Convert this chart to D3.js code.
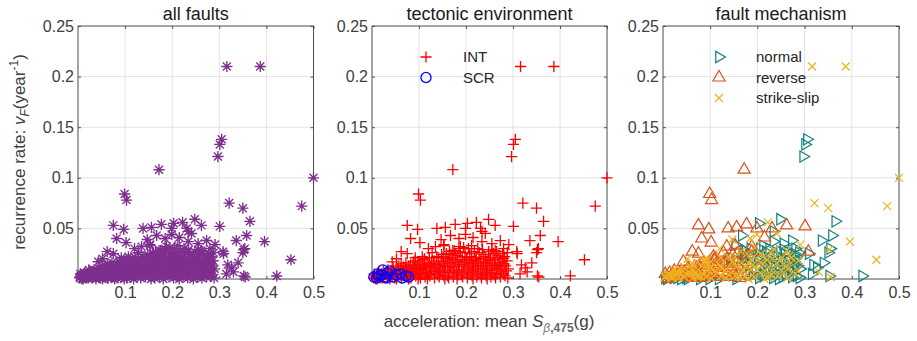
<!DOCTYPE html>
<html><head><meta charset="utf-8">
<script src="https://cdn.jsdelivr.net/npm/d3@7/dist/d3.min.js"></script>
<style>body{margin:0;background:#fff;} svg{display:block;font-family:"Liberation Sans",Arial,Helvetica,sans-serif;}</style>
</head><body><svg id="chart" width="917" height="341"></svg>
<script>
// ---------- data ----------
const panelTitles = ["all faults", "tectonic environment", "fault mechanism"];
const xTicks = [0.1, 0.2, 0.3, 0.4, 0.5];
const yTicks = [0.05, 0.1, 0.15, 0.2, 0.25];
const xDomain = [0, 0.5];
const yDomain = [0, 0.25];
const environments = ["INT", "SCR"];
const mechanisms = ["normal", "reverse", "strike-slip"];
// each fault: [mean S(g), recurrence rate (1/yr), mechanism index]
const intFaults = [
 [0.316,0.210,2],[0.387,0.210,2],[0.305,0.138,0],[0.301,0.133,0],[0.297,0.121,0],
 [0.172,0.108,1],[0.099,0.084,1],[0.103,0.078,1],[0.500,0.100,2],[0.475,0.072,2],
 [0.321,0.075,2],[0.350,0.070,2],[0.365,0.057,0],[0.301,0.052,1],[0.248,0.059,0],
 [0.358,0.043,0],[0.336,0.038,0],[0.396,0.037,2],[0.352,0.029,2],[0.354,0.030,0],
 [0.350,0.026,0],[0.340,0.016,0],[0.452,0.019,2],[0.422,0.003,0],[0.352,0.003,0],
 [0.355,0.002,2],[0.326,0.011,0],[0.318,0.014,0],[0.330,0.007,2],[0.315,0.005,0],
 [0.075,0.053,1],[0.097,0.049,1],[0.138,0.050,1],[0.156,0.051,1],[0.177,0.054,1],
 [0.199,0.050,1],[0.231,0.050,1],[0.262,0.053,1],[0.203,0.055,0],[0.222,0.056,2],
 [0.082,0.040,1],[0.102,0.036,1],[0.135,0.032,1],[0.062,0.027,1],[0.107,0.022,1],
 [0.043,0.017,1],[0.308,0.027,1],[0.153,0.033,1],[0.167,0.043,0],[0.199,0.044,2],
 [0.234,0.047,0],[0.241,0.045,2],[0.273,0.038,0],[0.234,0.037,0],[0.291,0.034,2],
 [0.309,0.025,0],[0.153,0.034,0],[0.185,0.040,2],[0.215,0.041,1],[0.255,0.035,0],
 [0.212,0.033,0],[0.280,0.030,0],[0.262,0.028,2],[0.188,0.032,1],[0.172,0.028,0],
 [0.147,0.039,2],[0.120,0.030,2],[0.128,0.026,1],[0.075,0.025,1],[0.052,0.020,2],
 [0.092,0.021,2],
 [0.004,0.001,0],[0.006,0.003,2],[0.008,0.000,0],[0.005,0.005,1],
 [0.013,0.002,0],[0.016,0.004,2],[0.014,0.006,1],[0.018,0.001,2],
 [0.022,0.001,0],[0.025,0.003,2],[0.027,0.006,2],[0.024,0.008,1],
 [0.033,0.002,2],[0.036,0.005,1],[0.034,0.009,2],[0.038,0.000,0],
 [0.043,0.003,2],[0.046,0.007,1],[0.045,0.011,2],[0.048,0.001,0],
 [0.053,0.002,1],[0.056,0.006,2],[0.054,0.010,1],[0.057,0.013,2],[0.052,0.000,0],
 [0.063,0.001,2],[0.066,0.004,1],[0.064,0.008,2],[0.067,0.012,1],[0.062,0.015,2],
 [0.073,0.002,2],[0.076,0.005,1],[0.074,0.009,2],[0.077,0.013,1],[0.072,0.016,2],[0.078,0.000,0],
 [0.083,0.001,1],[0.086,0.004,2],[0.084,0.008,1],[0.087,0.011,2],[0.082,0.014,1],[0.088,0.017,2],
 [0.093,0.003,2],[0.096,0.006,1],[0.094,0.010,2],[0.097,0.015,1],[0.092,0.018,2],[0.098,0.000,0],
 [0.103,0.001,2],[0.106,0.005,1],[0.104,0.009,2],[0.107,0.013,1],[0.102,0.017,2],[0.108,0.019,1],
 [0.113,0.002,1],[0.116,0.006,2],[0.114,0.011,1],[0.117,0.015,2],[0.112,0.020,1],[0.118,0.000,0],
 [0.123,0.003,2],[0.126,0.007,1],[0.124,0.012,2],[0.127,0.016,1],[0.122,0.021,2],
 [0.133,0.001,2],[0.136,0.005,1],[0.134,0.010,2],[0.137,0.014,0],[0.132,0.018,1],[0.138,0.022,2],
 [0.143,0.002,1],[0.146,0.007,2],[0.144,0.012,1],[0.147,0.017,2],[0.142,0.021,0],[0.148,0.024,1],
 [0.153,0.003,2],[0.156,0.008,1],[0.154,0.013,2],[0.157,0.018,0],[0.152,0.022,2],[0.158,0.025,1],[0.155,0.000,0],
 [0.163,0.001,1],[0.166,0.006,2],[0.164,0.011,0],[0.167,0.016,2],[0.162,0.020,1],[0.168,0.024,0],[0.165,0.027,2],
 [0.173,0.002,2],[0.176,0.007,0],[0.174,0.012,2],[0.177,0.017,1],[0.172,0.021,0],[0.178,0.025,2],[0.175,0.028,0],
 [0.183,0.004,0],[0.186,0.009,2],[0.184,0.014,0],[0.187,0.019,2],[0.182,0.023,0],[0.188,0.027,1],[0.185,0.030,0],[0.181,0.000,2],
 [0.193,0.002,2],[0.196,0.007,0],[0.194,0.012,2],[0.197,0.017,0],[0.192,0.022,2],[0.198,0.026,0],[0.195,0.031,2],
 [0.203,0.001,0],[0.206,0.006,2],[0.204,0.011,0],[0.207,0.016,2],[0.202,0.021,0],[0.208,0.025,2],[0.205,0.030,0],
 [0.213,0.003,0],[0.216,0.008,2],[0.214,0.013,0],[0.217,0.018,0],[0.212,0.022,2],[0.218,0.027,0],[0.215,0.000,2],
 [0.223,0.002,2],[0.226,0.007,0],[0.224,0.012,2],[0.227,0.017,0],[0.222,0.021,0],[0.228,0.026,2],[0.225,0.030,0],
 [0.233,0.001,0],[0.236,0.005,0],[0.234,0.010,2],[0.237,0.015,0],[0.232,0.020,2],[0.238,0.024,0],[0.235,0.029,2],
 [0.243,0.003,2],[0.246,0.008,0],[0.244,0.013,0],[0.247,0.018,2],[0.242,0.022,0],[0.248,0.027,0],[0.245,0.000,0],
 [0.253,0.002,0],[0.256,0.006,2],[0.254,0.011,0],[0.257,0.016,0],[0.252,0.021,2],[0.258,0.025,0],[0.255,0.029,0],
 [0.263,0.001,2],[0.266,0.005,0],[0.264,0.010,2],[0.267,0.014,0],[0.262,0.019,0],[0.268,0.023,2],[0.265,0.027,0],
 [0.273,0.002,0],[0.276,0.007,2],[0.274,0.012,0],[0.277,0.017,0],[0.272,0.021,2],[0.278,0.025,0],
 [0.283,0.003,0],[0.286,0.008,2],[0.284,0.013,0],[0.287,0.018,2],[0.282,0.022,0],[0.288,0.026,0],[0.289,0.001,0],
 [0.010,0.004,2],[0.011,0.000,1],[0.020,0.005,1],[0.021,0.002,2],[0.030,0.004,1],[0.031,0.007,2],
 [0.040,0.003,1],[0.041,0.008,2],[0.050,0.005,2],[0.051,0.009,1],[0.060,0.003,1],[0.061,0.010,2],
 [0.070,0.006,2],[0.071,0.011,1],[0.080,0.003,2],[0.081,0.010,1],[0.090,0.007,1],[0.091,0.013,2],
 [0.100,0.004,1],[0.101,0.011,2],[0.110,0.008,2],[0.111,0.014,1],[0.120,0.005,1],[0.121,0.013,2],
 [0.130,0.008,2],[0.131,0.015,1],[0.140,0.004,2],[0.141,0.010,1],[0.150,0.006,1],[0.151,0.015,2],
 [0.160,0.003,2],[0.161,0.013,1],[0.170,0.009,2],[0.171,0.019,0],[0.180,0.006,1],[0.181,0.016,2],
 [0.190,0.004,0],[0.191,0.014,2],[0.200,0.009,2],[0.201,0.019,0],[0.210,0.005,0],[0.211,0.015,2],
 [0.220,0.010,0],[0.221,0.019,2],[0.230,0.004,2],[0.231,0.013,0],[0.240,0.006,0],[0.241,0.016,2],
 [0.250,0.009,2],[0.251,0.019,0],[0.260,0.004,0],[0.261,0.013,2],[0.270,0.009,0],[0.271,0.016,2],
 [0.280,0.005,2],[0.281,0.015,0],[0.290,0.010,0],[0.279,0.020,0]
];
const scrFaults = [
 [0.004,0.002,2],[0.010,0.001,1],[0.015,0.003,2],[0.020,0.004,1],[0.023,0.009,2],
 [0.028,0.002,1],[0.033,0.006,2],[0.038,0.008,1],[0.045,0.002,2],[0.052,0.004,1],
 [0.060,0.005,2],[0.064,0.001,1],[0.072,0.003,2],[0.078,0.002,1],[0.030,0.001,0],[0.012,0.005,2]
];

// ---------- styles ----------
const colors = {all:"#7E2F8E", INT:"#FF0000", SCR:"#0000FF",
  normal:"#13807f", reverse:"#D95319", "strike-slip":"#EDB120"};

function markerPath(type){
  const r = 5.6, a = 4, t = 6.5, u = 7, k = 4;
  switch(type){
    case "star": return `M${-r},0L${r},0M0,${-r}L0,${r}M${-a},${-a}L${a},${a}M${-a},${a}L${a},${-a}`;
    case "plus": return `M${-r},0L${r},0M0,${-r}L0,${r}`;
    case "circle": return d3.symbol(d3.symbolCircle, 80)();
    case "tright": return `M${t},0L${-t/2},${-t*0.866}L${-t/2},${t*0.866}Z`;
    case "tup": return `M0,${-u}L${u*0.866},${u/2}L${-u*0.866},${u/2}Z`;
    case "cross": return `M${-k},${-k}L${k},${k}M${-k},${k}L${k},${-k}`;
  }
}
const strokeW = {star:1.35, plus:1.3, circle:1.3, tright:1.2, tup:1.2, cross:1.2};

const svg = d3.select("#chart");
const plotTop = 26, plotBottom = 279;
const panels = [{l:78, r:313.5}, {l:372, r:607}, {l:663, r:899}];
const textCol = "#404040";

function drawScatter(g, x, y, pts, type, color){
  g.append("g").selectAll("path").data(pts).join("path")
    .attr("transform", d => `translate(${x(d[0])},${y(d[1])})`)
    .attr("d", markerPath(type))
    .attr("fill","none").attr("stroke", color).attr("stroke-width", strokeW[type]);
}

const allFaults = intFaults.concat(scrFaults);

panels.forEach((p, i) => {
  const x = d3.scaleLinear(xDomain, [p.l, p.r]);
  const y = d3.scaleLinear(yDomain, [plotBottom, plotTop]);
  const g = svg.append("g");
  // grid
  g.append("g").selectAll("line").data(xTicks.slice(0,-1)).join("line")
    .attr("x1", d => x(d)).attr("x2", d => x(d)).attr("y1", plotBottom).attr("y2", plotTop)
    .attr("stroke", "#e2e2e2").attr("stroke-width", 1);
  g.append("g").selectAll("line").data(yTicks.slice(0,-1)).join("line")
    .attr("y1", d => y(d)).attr("y2", d => y(d)).attr("x1", p.l).attr("x2", p.r)
    .attr("stroke", "#e2e2e2").attr("stroke-width", 1);
  // axes
  const fmt = d => String(d);
  const ax = g.append("g").attr("transform", `translate(0,${plotBottom})`)
    .call(d3.axisBottom(x).tickValues(xTicks).tickSizeInner(-3).tickSizeOuter(0).tickPadding(8).tickFormat(fmt));
  const ay = g.append("g").attr("transform", `translate(${p.l},0)`)
    .call(d3.axisLeft(y).tickValues(yTicks).tickSizeInner(-3).tickSizeOuter(0).tickPadding(4).tickFormat(fmt));
  const at = g.append("g").attr("transform", `translate(0,${plotTop})`)
    .call(d3.axisTop(x).tickValues(xTicks).tickSizeInner(-3).tickSizeOuter(0).tickFormat(""));
  const ar = g.append("g").attr("transform", `translate(${p.r},0)`)
    .call(d3.axisRight(y).tickValues(yTicks).tickSizeInner(-3).tickSizeOuter(0).tickFormat(""));
  [ax, ay, at, ar].forEach(a => {
    a.attr("font-family", null).attr("font-size", 16);
    a.select(".domain").remove();
    a.selectAll("line").attr("stroke", "#555");
    a.selectAll("text").attr("fill", textCol);
  });
  // box
  g.append("rect").attr("x", p.l).attr("y", plotTop).attr("width", p.r - p.l).attr("height", plotBottom - plotTop)
    .attr("fill", "none").attr("stroke", "#4d4d4d").attr("stroke-width", 1);
  // title
  g.append("text").attr("x", (p.l + p.r) / 2).attr("y", 20).attr("text-anchor", "middle")
    .attr("font-size", 18).attr("fill", "#1a1a1a").text(panelTitles[i]);

  if (i === 0) {
    drawScatter(g, x, y, allFaults, "star", colors.all);
  } else if (i === 1) {
    drawScatter(g, x, y, intFaults, "plus", colors.INT);
    drawScatter(g, x, y, scrFaults, "circle", colors.SCR);
    const leg = [["plus", colors.INT], ["circle", colors.SCR]];
    environments.forEach((e, j) => {
      const ly = 57 + j * 20.5;
      g.append("path").attr("transform", `translate(426,${ly})`).attr("d", markerPath(leg[j][0]))
        .attr("fill", "none").attr("stroke", leg[j][1]).attr("stroke-width", strokeW[leg[j][0]]);
      g.append("text").attr("x", 463).attr("y", ly).attr("dy", "0.35em").attr("font-size", 15)
        .attr("fill", "#262626").text(e);
    });
  } else {
    const types = ["tright", "tup", "cross"];
    mechanisms.forEach((m, j) => {
      const pts = allFaults.filter(d => d[2] === j);
      drawScatter(g, x, y, pts, types[j], colors[m]);
      const ly = 57 + j * 20.5;
      g.append("path").attr("transform", `translate(719,${ly})`).attr("d", markerPath(types[j]))
        .attr("fill", "none").attr("stroke", colors[m]).attr("stroke-width", strokeW[types[j]]);
      g.append("text").attr("x", 756).attr("y", ly).attr("dy", "0.35em").attr("font-size", 15)
        .attr("fill", "#262626").text(m);
    });
  }
});

// axis labels
const xl = svg.append("text").attr("x", 489).attr("y", 327).attr("text-anchor", "middle")
  .attr("font-size", 17).attr("fill", textCol);
xl.append("tspan").text("acceleration: mean ");
xl.append("tspan").attr("font-style", "italic").text("S");
xl.append("tspan").attr("font-size", 12).attr("dy", 5).attr("font-style", "italic").attr("fill", "#777").text("β");
xl.append("tspan").attr("font-size", 12).attr("font-weight", "bold").attr("fill", "#666").text(",475");
xl.append("tspan").attr("dy", -5).text("(g)");

const yl = svg.append("text").attr("transform", "translate(25,152) rotate(-90)").attr("text-anchor", "middle")
  .attr("font-size", 17).attr("fill", textCol);
yl.append("tspan").text("recurrence rate: ");
yl.append("tspan").attr("font-style", "italic").text("v");
yl.append("tspan").attr("font-size", 12).attr("font-style", "italic").attr("dy", 4).text("F");
yl.append("tspan").attr("dy", -4).text("(year");
yl.append("tspan").attr("font-size", 12).attr("dy", -7).text("-1");
yl.append("tspan").attr("dy", 7).text(")");
</script></body></html>
